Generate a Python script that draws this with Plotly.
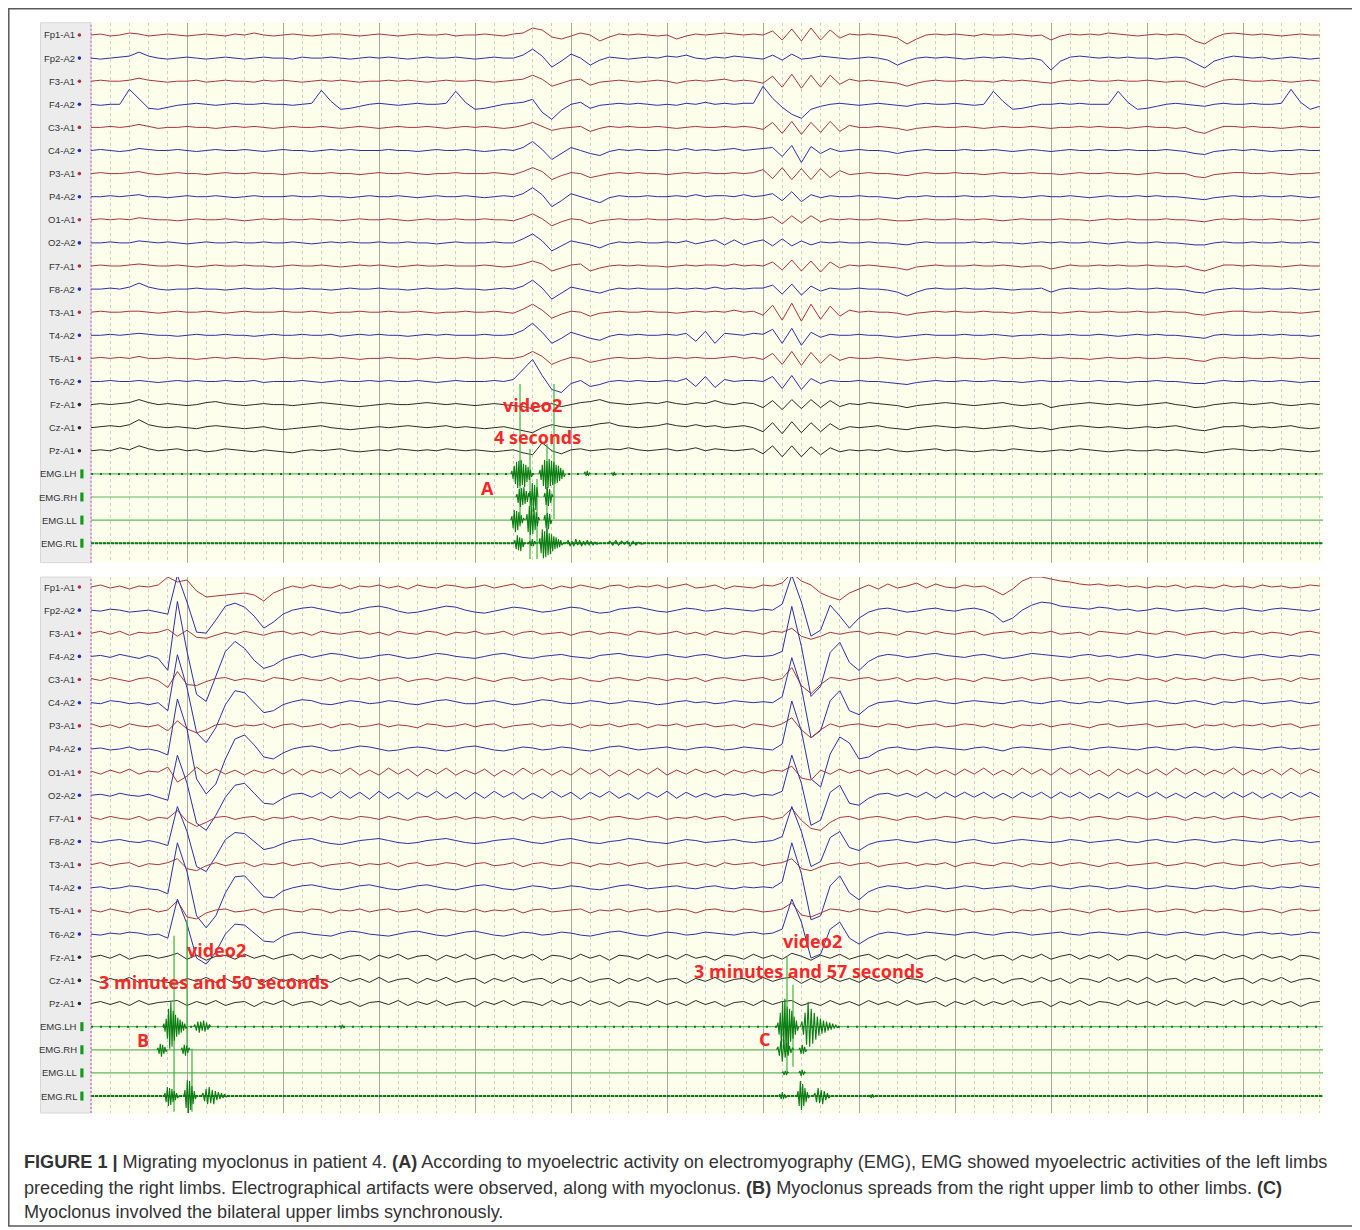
import plotly.graph_objects as go

W, H = 1360, 1230
OFF = 8           # the page body margin that the browser adds around the figure
DT = 0.1          # EEG sample step (s)
T_END = 12.8333   # visible seconds

CHANNELS = ["Fp1-A1", "Fp2-A2", "F3-A1", "F4-A2", "C3-A1", "C4-A2", "P3-A1", "P4-A2",
            "O1-A1", "O2-A2", "F7-A1", "F8-A2", "T3-A1", "T4-A2", "T5-A1", "T6-A2",
            "Fz-A1", "Cz-A1", "Pz-A1"]
EMG_CH = ["EMG.LH", "EMG.RH", "EMG.LL", "EMG.RL"]

# ---------------- Panel A EEG (values in px, up = positive, 0.1 s steps) -------------
A_FP1 = [0, 1, -1, 0, 2, 1, -1, 0, 1, 0, -1, 0, 1, 0, -1, 1, 0, 2, 0, -1,
         0, 1, 0, -1, 0, 1, 1, 0, -1, 0, 1, 0, -1, 0, 1, 0, 0, 1, -1, 0,
         0, 1, 0, -1, 1, 2, 7, 5, -2, -4, -1, 2, 0, -6, -2, 1, 0, 1, 0, -1,
         0, -4, -1, 1, 0, 1, 2, 1, 0, 1, 0, 4, -5, 6, -6, 7, -5, 5, -3, 1,
         0, 1, 0, -1, -3, -9, -4, 0, 1, 0, 1, 0, -1, 1, 0, 0, 1, 0, -1, 0,
         -5, -1, 1, 0, 1, 0, 2, 1, 0, -1, 0, 1, 0, 1, 0, -6, -9, -3, 1, 2,
         1, 0, 1, 0, -1, 0, 1, 0, 0]
A_FP2 = [0, -1, 0, 1, 2, 6, 2, 0, -1, 0, 1, 0, -1, 0, 1, 0, -1, 0, 1, 0,
         0, -1, 1, 0, 0, 1, 0, -1, 0, 1, 0, 1, 0, -1, 0, 1, 0, 0, 1, 0,
         -1, 0, 1, 0, 0, 3, 9, 2, -9, -3, 4, 0, -7, -2, 1, 0, -1, 0, 1, 0,
         2, 1, 3, 0, -1, 1, 0, 2, 1, 0, -1, 3, -2, 4, -1, 0, 2, 1, 0, -1,
         0, 1, 0, -2, -7, -3, 0, 1, 0, 1, 0, -1, 0, 1, 0, 1, 0, -1, 0, -2,
         -12, -3, 1, 2, 1, 0, 1, 0, 1, 0, 0, -1, 0, 1, 0, -5, -10, -3, 0, 2,
         1, 0, 1, -1, 0, 1, 0, -1, 0]
A_F3 = [0, 1, 0, 0, 1, 3, 1, 0, -1, 0, 0, 1, -1, 0, 1, 0, 0, -1, 1, 0,
        1, 0, -1, 0, 1, 0, 1, 0, -1, 0, 0, 1, 0, 1, 0, -1, 0, 1, 0, 0,
        1, 0, -1, 0, 1, 2, 6, 2, -5, -2, 1, 2, -4, -1, 0, 1, 0, -1, 0, 1,
        0, -2, 0, 1, 0, 1, 2, 0, 1, 0, -2, 5, -6, 7, -7, 6, -6, 6, -3, 2,
        0, 1, 0, -1, -2, -5, -2, 0, 1, 0, 0, 1, 0, 0, -1, 1, 0, 1, 0, -1,
        -2, 0, 1, 0, 1, 0, 0, 1, 0, 0, 1, 0, -1, 0, 0, -3, -6, -2, 1, 2,
        1, 0, 0, 1, 0, -1, 0, 1, 0]
A_F4 = [0, -1, 0, 0, 15, 5, -4, -5, -3, -1, 0, 1, 0, -1, 0, 1, 0, 0, 1, 0,
        0, -1, 0, 1, 14, 3, -5, -4, -2, 0, 1, 0, -1, 0, 1, 0, 0, 1, 13, 2,
        -5, -4, -2, 0, 1, 2, 5, -8, -15, -6, 0, 2, -4, -1, 0, 1, 0, 1, 0, -1,
        0, -1, 1, 0, 2, 0, 1, 0, 1, 1, 18, 6, -3, -10, -14, -5, -2, 0, 1, 0,
        -1, 0, 1, 0, -1, -2, 0, 1, 0, 0, 1, 0, -1, 0, 13, 3, -5, -4, -2, 0,
        0, 1, 0, 1, 0, 0, 0, 13, 2, -5, -4, -2, 0, 1, 0, -1, -2, 0, 1, 0,
        0, 1, 0, 0, 1, 15, 2, -5, -2]
A_C3 = [0, 0, 1, 0, 1, 3, 1, -1, 0, 0, 1, 0, 0, -1, 0, 1, 0, 1, 0, -1,
        0, 1, 0, 0, 1, 0, -1, 0, 1, 0, -1, 0, 1, 0, 0, 1, 0, -1, 0, 1,
        0, 1, 0, -1, 0, 2, 5, 1, -3, -1, 0, 1, -4, -1, 1, 0, 1, 0, 0, 1,
        0, -1, 0, 1, 0, 0, 1, 0, 1, 0, -2, 5, -6, 6, -7, 5, -5, 6, -4, 2,
        0, 0, 1, 0, -1, -3, -1, 0, 1, 0, 0, 1, 0, -1, 0, 1, 0, 0, 1, 0,
        -1, 0, 0, 1, 0, 1, 0, 0, -1, 0, 1, 0, 0, -1, 0, -4, -6, -2, 1, 1,
        0, 1, 0, 0, -1, 0, 1, 0, 0]
A_C4 = [0, 1, 0, -1, 0, 2, 1, 0, 0, 1, 0, -1, 0, 1, 0, 0, 1, 0, -1, 0,
        1, 0, 0, -1, 0, 1, 0, 1, 0, 0, 0, 1, 0, 0, -1, 0, 1, 0, 0, 1,
        0, -1, 0, 1, 0, 3, 9, 1, -9, -3, 3, 0, -3, -5, -1, 1, 0, 1, 0, 0,
        1, 0, 2, 0, 1, 0, 1, 2, 0, 1, 2, 3, -6, 5, -12, 4, -3, 2, -1, 0,
        1, 0, 0, -1, -3, -1, 0, 1, 0, 0, 0, 1, 0, 0, 1, 0, -1, 0, 1, 0,
        -1, 0, 1, 0, 0, 1, 0, 0, 1, 0, 0, 0, 1, 0, -1, -3, -4, -1, 0, 1,
        0, 1, 0, -1, 0, 0, 1, 0, 0]
A_P3 = [0, 1, 0, 0, 1, 2, 0, -1, 0, 1, 0, 0, -1, 0, 1, 0, 0, 1, 0, 0,
        -1, 0, 1, 0, 0, 1, 0, 0, -1, 0, 1, 0, 0, 1, 0, -1, 0, 0, 1, 0,
        0, 0, 1, 0, -1, 2, 6, 2, -6, -2, 1, 0, -4, -2, 0, 1, 0, 1, 0, 0,
        -1, 0, 1, 0, 1, 0, 0, 1, 0, 1, 4, -5, 6, -6, 5, -6, 5, -4, 3, -1,
        0, 1, 0, 0, -1, -2, 0, 1, 0, 0, 1, 0, 0, -1, 0, 1, 0, 0, 1, 0,
        0, -1, 0, 1, 0, 0, 1, 0, 0, -1, 0, 1, 0, 0, 0, -3, -4, -1, 0, 1,
        1, 0, 0, 1, 0, -1, 0, 0, 1]
A_P4 = [0, 0, 1, 0, 1, 2, 0, 0, -1, 0, 1, 0, 0, 1, 0, -1, 0, 1, 0, 0,
        0, 1, 0, 0, 1, 0, 0, -1, 0, 1, 0, 0, 1, 0, -1, 0, 1, 0, 0, 1,
        0, -1, 0, 1, 0, 3, 9, 2, -10, -4, 3, 0, -3, -6, -1, 1, 0, 0, 1, 0,
        0, 1, 0, 2, 0, 1, 1, 0, 2, 0, 1, 3, -4, 5, -5, 2, -1, 1, 0, 0,
        1, 0, 0, -1, -2, 0, 0, 1, 0, 0, 0, 1, 0, 0, 1, 0, 0, -1, 0, 1,
        0, 0, 1, 0, -1, 0, 1, 0, 0, 1, 0, 1, 0, 0, -1, -2, -3, -1, 0, 1,
        0, 0, 1, 0, 0, 1, 0, -1, 0]
A_O1 = [0, 1, 0, 1, 0, 2, 1, 0, 0, -1, 0, 1, 0, 0, 1, 0, -1, 0, 1, 0,
        1, 0, 0, 1, 0, 0, -1, 0, 1, 0, 0, 1, 0, -1, 0, 1, 0, 0, 1, 0,
        0, 1, 0, 0, -1, 2, 6, 1, -6, -2, 1, 0, -4, -1, 0, 1, 0, 0, 1, 0,
        0, 1, 0, 1, 0, 0, 2, 0, 1, 0, 1, 3, -4, 4, -3, 4, -2, 1, 0, 1,
        0, 0, 1, 0, -1, -1, 0, 1, 0, 0, 1, 0, 0, 1, 0, -1, 0, 1, 0, 0,
        0, 1, 0, 0, -1, 0, 1, 0, 1, 0, 0, 0, 1, 0, 0, -1, -2, 0, 1, 0,
        1, 0, 0, 1, 0, 0, -1, 0, 1]
A_O2 = [0, 0, 1, 0, 0, 2, 1, 0, 1, 0, -1, 0, 1, 0, 0, 1, 0, 0, 1, 0,
        0, 1, 0, -1, 0, 1, 0, 1, 0, 0, 1, 0, 0, 1, 0, 0, -1, 0, 1, 0,
        0, 0, 1, 0, 0, 4, 9, 2, -8, -3, 2, 0, -2, -5, -1, 1, 0, 1, 0, 0,
        1, 0, 2, -1, 1, 3, -2, 3, -2, 1, 3, -3, 4, -3, 2, -2, 1, 0, 1, 0,
        0, 1, 0, 0, -1, -2, 0, 1, 0, 0, 0, 0, 1, 0, 1, 0, 0, -1, 0, 1,
        0, 1, 0, 0, 1, 0, -1, 0, 1, 0, 0, 1, 0, 0, -1, -2, -2, 0, 1, 0,
        0, 1, 0, 0, 1, 0, 0, 1, 0]
A_F7 = [0, 1, 0, 0, 1, 2, 1, 0, 0, 1, 0, -1, 0, 1, 0, 0, 1, 0, 0, -1,
        0, 1, 0, 0, 1, 0, -1, 0, 1, 0, 1, 0, -1, 0, 1, 0, 0, 1, 0, 0,
        0, 1, 0, -1, 0, 2, 5, 2, -5, -2, 1, 2, -5, -2, 0, 1, 0, 1, 0, 0,
        -1, 0, 1, 0, 1, 1, 0, 2, 0, 1, 0, 4, -4, 6, -5, 5, -6, 4, -2, 1,
        0, 1, 0, -1, -2, -4, -1, 0, 1, 0, 0, 0, 1, 0, 0, 1, 0, -1, 0, 0,
        -3, -1, 1, 0, 0, 1, 0, 1, 0, 0, 1, 0, 0, -1, 0, -3, -5, -2, 1, 1,
        0, 1, 0, 0, -1, 0, 1, 0, 0]
A_F8 = [0, 0, 1, 0, 2, 6, 2, 0, -1, 0, 0, 1, 0, 0, -1, 0, 1, 0, 0, 1,
        0, 0, 1, 0, 0, -1, 0, 1, 0, 0, 1, 0, 0, -1, 0, 1, 0, 0, 1, 0,
        0, -1, 0, 1, 0, 3, 9, 1, -10, -4, 2, 0, -2, -4, -1, 1, 0, 1, 0, 0,
        0, 1, 0, 1, 0, 2, 0, 1, 0, 1, 1, 4, -5, 5, -6, 3, -2, 1, 0, 0,
        1, 0, 0, -1, -3, -7, -3, 0, 1, 0, 0, 1, 0, 0, 1, 0, -1, 0, 0, 1,
        -3, 0, 1, 0, 0, 1, 0, 0, 1, 0, 0, 1, 0, 0, -1, -3, -4, -1, 0, 1,
        0, 0, 1, 0, 0, 1, 0, -1, 0]
A_T3 = [0, 1, 0, 0, 1, 1, 0, -1, 0, 1, 0, 0, 1, 0, -1, 0, 1, 0, 0, 0,
        1, 0, 0, 1, 0, -1, 0, 0, 1, 0, 0, 1, 0, 0, 1, 0, -1, 0, 0, 1,
        0, 0, 1, 0, -1, 3, 8, 2, -6, -2, 1, 0, -4, -1, 0, 1, 0, 0, 1, 0,
        0, -1, 0, 1, 0, 1, 0, 2, 0, 1, -3, 7, -8, 9, -9, 8, -7, 6, -4, 2,
        0, 1, 0, 0, -1, -3, -1, 0, 1, 0, 1, 0, 0, 1, 0, 0, -1, 0, 1, 0,
        0, -1, 0, 1, 0, 0, 1, 0, 0, 1, 0, 0, 1, 0, 0, -2, -3, -1, 0, 1,
        1, 0, 0, 1, 0, 0, -1, 0, 1]
A_T4 = [0, 0, 1, 0, 1, 2, 1, 0, 0, -1, 0, 1, 0, 0, 1, 0, 0, -1, 0, 1,
        0, 0, 1, 0, 0, 1, -1, 0, 1, 0, 1, 0, 0, -1, 0, 1, 0, 1, 0, 0,
        0, 1, 0, 0, 1, 5, 12, 3, -8, -3, 3, 0, -3, -5, -1, 1, 0, 1, 0, 0,
        1, 0, 2, -6, 4, -8, 2, 1, 0, 2, 1, 6, -8, 7, -10, 3, -2, 1, 0, 0,
        1, 0, 0, -1, -2, -1, 0, 1, 0, 0, 0, 1, 0, 0, 1, 0, -1, 0, 0, 1,
        0, 0, 1, 0, 0, 1, 0, -1, 0, 1, 0, 1, 0, 0, -1, -2, -3, 0, 1, 0,
        0, 0, 1, 0, 1, 0, 0, -1, 0]
A_T5 = [0, 1, 0, 1, 0, 2, 0, 0, 1, 0, 0, -1, 0, 1, 0, 1, 0, 0, -1, 0,
        1, 0, 0, 1, 0, 0, 1, 0, -1, 0, 0, 1, 0, 0, -1, 0, 1, 0, 0, 1,
        0, 0, 1, 0, 0, 2, 7, 2, -6, -2, 1, 0, -4, -2, 0, 1, 0, 0, 1, 0,
        0, 1, 0, 1, 0, 0, 1, 2, 0, 1, -1, 5, -6, 7, -7, 6, -5, 4, -2, 1,
        0, 0, 1, 0, -1, -2, -1, 0, 1, 0, 1, 0, 0, -1, 0, 1, 0, 0, 1, 0,
        0, 1, 0, 0, -1, 0, 1, 0, 0, 1, 0, 0, 1, 0, 0, -2, -3, 0, 1, 0,
        1, 0, 0, 1, 0, 0, 1, 0, 0]
A_T6 = [0, 0, 1, 0, 0, 1, 0, -1, 0, 1, 0, 1, 0, 0, 1, 0, 0, 1, -1, 0,
        0, 0, 1, 0, -1, 0, 1, 0, 0, 1, 0, 1, 0, 0, 1, 0, -1, 0, 1, 0,
        0, 0, 1, 0, 2, 12, 22, 6, -8, -11, -2, 1, -5, -3, 0, 1, 0, 1, 0, 0,
        1, 0, 3, -5, 5, -6, 2, 0, 1, 1, 0, 5, -7, 6, -8, 3, -2, 1, 0, 0,
        1, 0, 0, -1, -2, -3, -1, 0, 1, 0, 0, 1, 0, 0, 1, 0, 0, -1, 0, 1,
        0, 0, 1, 0, 0, 1, 0, 0, -1, 0, 0, 1, 0, 0, -1, -2, -2, 0, 1, 0,
        0, 1, 0, 0, 1, 0, -1, 0, 0]
A_FZ = [0, 1, 0, 1, 2, 5, 2, 0, 1, 0, -1, 0, 2, 3, 1, 0, -1, 0, 1, 0,
        0, -1, 0, 1, 2, 1, 0, -1, -2, -1, 0, 1, 0, 0, 1, 2, 1, 0, 1, 0,
        -1, 0, 1, 0, -1, -2, -4, -1, 1, -2, 0, 2, 3, 5, 2, 1, 0, 1, 2, 1,
        3, 1, 0, 2, 1, 4, 1, 0, 2, 1, -3, 4, -5, 5, -4, 5, -3, 4, -2, 1,
        0, 2, 1, 0, -1, -3, -1, 0, 1, 2, 1, 0, -1, 0, 1, 2, 0, -1, 0, 1,
        -3, -1, 0, 1, 2, 1, 0, 1, 0, -1, 0, 1, 2, 0, -1, -3, -2, 0, 1, 2,
        1, 0, 1, 2, 0, -1, 0, 1, 0]
A_CZ = [0, 1, 2, 1, 3, 8, 3, 1, 0, 1, 0, -1, 1, 2, 1, 0, -1, 0, 1, -1,
        -2, -1, 0, 1, 2, 0, -1, -2, -1, 0, 1, 0, 1, 2, 1, 0, 1, 2, 0, 1,
        0, -1, 0, 1, -1, -3, -5, 0, 3, 1, 0, 1, 2, 4, 5, 2, 1, 0, 1, 2,
        4, 2, 1, 3, 1, 2, 0, 1, 2, 0, -4, 5, -6, 6, -5, 5, -4, 4, -2, 1,
        0, 1, 2, 0, -1, -2, 0, 1, 2, 1, 0, 1, 0, -1, 0, 1, 2, 0, -1, 0,
        -2, 0, 1, 2, 1, 0, 1, 0, -1, 0, 1, 0, 1, 2, 0, -2, -3, -1, 1, 1,
        2, 0, 1, 0, 1, 2, 0, -1, 0]
A_PZ = [0, 1, 0, 3, 1, 5, 2, 0, 1, 2, 0, 1, -1, 0, 2, 1, 0, -1, 1, 0,
        -1, -2, 0, 1, 0, 1, 2, 0, -1, 0, 1, 0, 2, 1, 0, 1, 0, 2, 1, 0,
        1, 0, -1, 0, 1, -2, -4, 8, 0, -3, 1, 2, 0, 1, 2, 1, 3, 1, 0, 1,
        2, 0, 1, 3, 0, 2, 1, 0, 1, 2, -3, 5, -6, 5, -6, 4, -4, 3, -1, 1,
        0, 1, 0, 2, 0, -1, 0, 1, 2, 0, 1, 0, -1, 0, 1, 0, 2, 1, 0, -1,
        0, 1, 0, 2, 1, 0, -1, 0, 1, 0, 0, 1, 0, 1, 0, -1, -2, 0, 1, 2,
        1, 0, 1, 0, 2, 1, 0, -1, 0]

# ---------------- Panel B EEG --------------------------------------------------------
B_FP1 = [0, 2, -1, 1, -2, 1, 0, 2, 10, 5, 7, -4, -10, -9, -8, -7, -6, -8, -14, -6,
         -2, 1, -1, 2, 0, -1, 2, -2, 1, 0, 2, -1, 1, -2, 2, 0, -1, 2, 1, -1,
         0, 2, -1, 1, 3, -1, 0, 2, -2, 1, -1, 2, 0, -2, 1, 2, -1, 1, 0, 2,
         -1, 1, 3, -1, 0, 2, -2, 1, 0, -1, 2, 1, 4, 14, 6, 2, -6, -10, -13, -6,
         -2, 2, -2, 3, -1, 1, 4, -1, 3, 0, -1, 2, 0, 1, -3, -8, -2, 6, 10, 10,
         8, 6, 5, 3, 2, 3, 1, 2, 0, 1, -1, 1, 0, 2, -1, 1, 0, -1, 2, 0,
         1, -1, 2, 0, 1, -1, 0, 2, 1]
B_FP2 = [0, -1, 1, 0, -2, -1, 0, -2, -4, 35, 8, -22, -23, -10, 4, 7, 3, -6, -18, -12,
         -4, 0, 2, 3, 1, -1, -3, -2, 1, 3, 4, 2, -1, -3, -2, 0, 2, 4, 3, 0,
         -2, -3, -1, 1, 3, 2, 0, -2, -1, 1, 3, 2, -1, -3, -2, 1, 2, 3, 1, -1,
         -2, 0, 2, 1, -1, 0, 2, 1, 0, -1, 1, 0, 6, 35, 8, -26, -20, 5, -6, -18,
         -8, -2, 1, 2, 0, -2, -1, 1, 2, 0, -1, 1, 2, 0, -4, -12, -8, 0, 5, 8,
         7, 4, 3, 2, 1, 3, 2, 0, 1, -1, 0, 2, 1, -1, 0, 1, 2, 0, -1, 1,
         2, 0, -1, 1, 2, 1, 0, -1, 1]
B_F3 = [0, 2, -1, 2, -2, 1, 0, 1, 4, -3, 3, -4, -5, -2, 1, -1, 2, 0, -2, 1,
        2, -1, 1, -2, 2, 0, -1, 1, 2, -1, 1, -2, 2, 0, -1, 2, 1, -2, 1, 0,
        2, -1, 0, 2, -2, 1, 2, -1, 0, 1, -2, 1, 2, -1, 1, 0, -2, 2, 1, -1,
        0, 2, -1, 1, -2, 2, 0, -1, 2, 1, -1, 2, 1, 5, -3, -6, -3, 1, -1, 1,
        2, -1, 1, 0, -2, 2, 1, -1, 2, 0, -1, 1, 2, -2, 0, 1, 2, -1, 1, 0,
        2, -1, 0, 1, -2, 2, 1, 0, -1, 2, 0, -1, 2, 1, -2, 0, 1, 2, -1, 1,
        0, 2, -1, 1, 0, -2, 1, 2, 0]
B_F4 = [0, 1, -1, 2, 0, -2, 1, -2, -14, 55, 5, -38, -45, -20, 5, 15, 8, -4, -12, -9,
        -3, 0, 2, -1, 1, 3, 2, 0, -2, -1, 1, 2, 0, -2, -1, 1, 3, 2, 0, -1,
        -2, 0, 2, 3, 1, -1, -2, 0, 1, 2, 0, -1, -2, 1, 2, 3, 1, 0, -1, 1,
        2, 0, -1, 1, 2, 0, -2, -1, 1, 0, 0, 1, 5, 50, 10, -40, -30, 4, 14, -6,
        -14, -5, 0, 2, 1, -1, 0, 2, 3, 1, 0, -1, 1, 2, 0, -2, -1, 1, 3, 2,
        1, 0, -1, 1, 2, 0, 1, -1, 0, 2, 1, -1, 0, 2, 1, 0, -2, 1, 2, 0,
        -1, 1, 2, 0, -1, 1, 0, 2, 1]
B_C3 = [1, -1, 2, 0, -2, 1, 2, -1, -8, 8, -5, -6, -2, 1, 2, -1, 1, 0, -2, 2,
        1, -1, 2, 0, -1, 2, -2, 1, 0, 2, -1, 1, 2, -2, 0, 1, -1, 2, 1, -1,
        2, 0, -2, 1, 2, -1, 0, 2, -1, 1, 0, 2, -1, -2, 1, 2, 0, -1, 2, 1,
        -1, 1, 0, 2, -2, 1, 2, 0, -1, 1, 2, -1, 1, 12, -6, -14, -5, 2, 1, -1,
        1, 2, -1, 0, 2, -2, 1, 0, 2, -1, 1, 0, -2, 2, 1, -1, 0, 2, -1, 1,
        2, -1, 0, 1, 2, -2, 1, 0, -1, 2, 0, 1, -2, 2, 0, 1, -1, 2, 0, -1,
        1, 2, -1, 0, 1, -2, 2, 0, 1]
B_C4 = [0, -1, 2, 1, -1, 0, -2, 0, -8, 48, 15, -30, -40, -25, -2, 12, 10, 0, -10, -8,
        -2, 1, 3, 2, -1, -2, 0, 2, 1, -1, 0, 2, 1, -1, -2, 0, 2, 3, 1, -1,
        -1, 1, 2, 0, -2, -1, 1, 3, 2, 0, -1, 0, 2, 1, -1, 0, 2, 1, 0, -2,
        -1, 1, 2, 0, 1, -1, 0, 2, 1, 0, 1, 0, 6, 45, 15, -35, -28, 2, 12, -8,
        -12, -4, 0, 1, 2, 0, -1, 1, 2, 0, -1, 1, 2, 1, 0, -1, 1, 2, 0, -1,
        1, 2, 0, -1, 1, 0, 2, 1, -1, 0, 1, 2, 0, -1, 1, 2, 0, -2, 1, 0,
        2, 1, -1, 0, 1, 2, 0, -1, 1]
B_P3 = [2, -1, 1, -2, 2, 0, -1, 1, -5, 5, -3, -7, -4, 1, 2, -1, 1, 0, 2, -2,
        1, 2, -1, 0, 2, -2, 1, 2, -1, 0, 2, -1, 1, 0, -2, 2, 1, -1, 0, 2,
        -1, 1, 2, -2, 0, 1, 2, -1, 1, 0, 2, -2, 1, 0, 2, -1, 1, 2, -2, 1,
        0, 2, -1, 1, 2, -1, 0, 1, -2, 2, 1, -1, 2, 8, -4, -12, -4, 2, -1, 1,
        2, 0, -1, 2, 1, -2, 0, 1, 2, -1, 0, 2, 1, -1, 2, 0, -2, 1, 0, 2,
        -1, 1, 2, 0, -2, 1, 2, -1, 0, 1, 2, -1, 0, 1, 2, -2, 1, 0, 2, -1,
        1, 0, 2, -1, 1, 2, -2, 0, 1]
B_P4 = [0, 1, -1, 0, 2, -1, 0, -2, -6, 50, 20, -30, -45, -35, -10, 10, 14, 4, -8, -10,
        -4, 0, 2, 3, 1, -2, -1, 1, 3, 2, 0, -2, -1, 1, 2, 1, -1, -2, 0, 2,
        3, 1, -1, -2, 0, 2, 1, -1, 0, 2, 1, -1, -2, 0, 2, 3, 1, -1, 0, 1,
        2, 0, -1, 1, 2, 1, -1, 0, 2, 1, 0, -1, 5, 48, 18, -30, -38, -5, 12, 6,
        -10, -8, -2, 1, 2, 0, -1, 1, 2, 1, 0, -1, 1, 2, 0, -2, 1, 2, 1, 0,
        -1, 1, 2, 0, -1, 1, 2, 1, 0, -1, 1, 2, 0, -1, 1, 2, 1, -1, 0, 2,
        1, 0, -1, 1, 2, 0, 1, -1, 0]
B_O1 = [1, -2, 2, -1, 3, -2, 1, 0, 5, -10, -4, 5, -2, 3, -2, 2, -3, 2, -1, 3,
        -2, 3, -3, 2, -1, 3, -2, 4, -3, 2, -3, 4, -2, 3, -4, 3, -2, 4, -3, 2,
        -2, 3, -4, 2, -3, 4, -2, 3, -3, 2, -3, 4, -2, 3, -4, 2, -3, 3, -2, 4,
        -3, 2, -2, 3, -1, 2, -3, 2, -1, 2, -1, 2, 1, 6, -6, -8, 2, -2, 3, -1,
        2, -2, 1, 3, -2, 2, -3, 3, -2, 2, -3, 3, -2, 4, -3, 2, -3, 4, -2, 3,
        -3, 4, -2, 3, -3, 2, -4, 3, -2, 3, -2, 3, -3, 4, -2, 3, -3, 2, -2, 4,
        -3, 2, -2, 3, -3, 4, -2, 3, -1]
B_O2 = [0, 1, -1, 2, 0, -1, 1, -2, -5, 40, 12, -28, -35, -20, -2, 10, 12, 2, -8, -9,
        -3, 1, 2, -2, 3, -3, 4, -3, 3, -4, 4, -3, 3, -4, 3, -2, 4, -3, 3, -4,
        3, -3, 4, -2, 3, -4, 2, -3, 4, -2, 3, -4, 3, -2, 4, -3, 2, -4, 3, -2,
        4, -3, 3, -2, 2, -2, 1, 0, 2, -1, 1, 0, 4, 40, 12, -30, -25, 3, 10, -8,
        -10, -3, 1, 2, -1, 2, -2, 3, -3, 3, -2, 3, -2, 3, -3, 2, -3, 3, -2, 3,
        -3, 3, -2, 3, -3, 2, -3, 3, -2, 3, -2, 3, -3, 2, -3, 3, -2, 3, -3, 3,
        -2, 3, -3, 2, -3, 3, -2, 3, -2]
B_F7 = [1, -1, 2, 0, -1, 2, -2, 1, 0, 8, -3, -8, -4, 1, 2, -1, 1, 2, -2, 1,
        0, 2, -1, 1, -2, 2, 0, -1, 2, 1, -1, 2, 0, -2, 1, 2, -1, 0, 2, -1,
        1, 0, 2, -1, 1, -2, 2, 0, 1, 2, -1, 0, 2, -2, 1, 2, 0, -1, 1, 2,
        -1, 1, 0, 2, -1, 1, 2, -2, 0, 1, 2, -1, 1, 10, -2, -10, -12, -4, 1, 2,
        -1, 1, 2, 0, -2, 1, 2, -1, 0, 2, 1, -1, 2, 0, 1, -2, 2, 1, 0, -1,
        2, 0, 1, -2, 1, 2, 0, -1, 2, 1, -1, 0, 2, 1, -2, 1, 0, 2, -1, 1,
        2, 0, -1, 1, 2, -2, 0, 1, 2]
B_F8 = [0, -1, 1, 2, 0, -1, 1, -1, -4, 35, 10, -25, -30, -15, 2, 9, 8, 0, -8, -6,
        -2, 1, 2, 3, 0, -2, -3, -1, 1, 2, 3, 1, -1, -2, -1, 1, 2, 3, 1, -1,
        -2, -1, 1, 2, 3, 1, -1, -2, 0, 2, 3, 1, -1, -2, 0, 1, 3, 2, 0, -1,
        -2, 0, 2, 1, -1, 0, 1, 2, 0, -1, 0, 1, 5, 35, 10, -25, -20, 4, 10, -6,
        -9, -3, 0, 1, 2, 0, -1, 1, 2, 0, -1, 1, 2, 0, -2, -1, 1, 2, 1, 0,
        -1, 0, 2, 1, -1, 0, 1, 2, 0, -1, 1, 2, 0, -1, 1, 2, 1, -1, 0, 2,
        1, 0, -1, 1, 2, 0, 1, -1, 0]
B_T3 = [0, 2, -1, 1, 2, -2, 1, 0, 2, 6, -4, -6, -1, 2, -1, 1, 2, -2, 1, 0,
        2, -1, 1, 2, -2, 0, 1, 2, -1, 1, 0, 2, -2, 1, 2, -1, 0, 2, 1, -2,
        1, 2, -1, 0, 2, -2, 1, 2, 0, -1, 2, 1, -2, 1, 0, 2, -1, 1, 2, -2,
        0, 1, 2, -1, 1, -2, 2, 0, 1, 2, -1, 1, 2, 6, -4, -6, -2, 1, 2, -1,
        1, 2, -2, 0, 1, 2, -1, 1, 0, 2, -2, 1, 2, 0, -1, 2, 1, -2, 1, 0,
        2, -1, 1, 2, 0, -2, 1, 2, -1, 0, 1, 2, -1, 0, 2, 1, -2, 1, 2, 0,
        -1, 1, 2, -2, 0, 1, 2, -1, 1]
B_T4 = [0, 1, -1, 0, 2, 1, -1, -2, -6, 45, 16, -28, -40, -28, -5, 11, 12, 2, -9, -10,
        -3, 0, 2, 3, 1, -1, -2, 0, 2, 3, 1, -1, -2, 0, 2, 3, 1, -1, -2, 0,
        2, 3, 1, -1, -2, 0, 2, 1, -1, 0, 2, 1, -1, -2, 0, 2, 3, 1, -1, 0,
        1, 2, 0, -1, 1, 2, 0, -1, 1, 0, 1, 0, 6, 45, 14, -32, -28, 2, 12, -5,
        -12, -4, 0, 2, 1, -1, 0, 2, 1, -1, 0, 2, 1, -1, 0, 1, 2, 0, -1, 1,
        2, 0, -1, 1, 2, 1, -1, 0, 2, 1, -1, 0, 2, 1, 0, -1, 1, 2, 0, -1,
        1, 2, 0, -1, 1, 0, 2, 1, 0]
B_T5 = [1, -1, 2, 0, -2, 1, 2, -1, 1, 10, -6, -8, -2, 1, 2, -1, 0, 2, -2, 1,
        2, 0, -1, 2, 1, -2, 1, 0, 2, -1, 1, 2, -1, 0, 2, -2, 1, 2, 0, -1,
        2, -1, 1, 0, 2, -2, 1, 2, -1, 0, 1, 2, -2, 1, 0, 2, -1, 1, 2, -1,
        0, 2, 1, -2, 1, 2, 0, -1, 2, 1, -1, 0, 2, 8, -4, -6, -2, 2, 1, -1,
        2, 0, -1, 2, 1, -2, 0, 2, 1, -1, 1, 2, -1, 0, 2, 1, -2, 1, 0, 2,
        -1, 1, 2, 0, -2, 1, 2, -1, 0, 1, 2, -1, 0, 2, 1, -2, 1, 0, 2, 1,
        -1, 0, 2, 1, -2, 1, 2, 0, 1]
B_T6 = [0, -1, 1, 0, 2, 1, -1, 0, -4, 35, 10, -24, -30, -18, 0, 10, 9, 1, -7, -8,
        -2, 1, 2, 0, -1, -2, 1, 3, 2, 0, -1, -2, 0, 2, 3, 1, -1, -2, 0, 2,
        3, 1, -1, -2, 0, 2, 1, -1, 0, 2, 1, -1, -2, 0, 2, 3, 1, -1, -2, 0,
        2, 1, -1, 0, 2, 1, 0, -1, 1, 2, 0, 1, 5, 35, 12, -24, -20, 5, 12, -4,
        -10, -4, 0, 2, 1, -1, 0, 2, 1, 0, -1, 1, 2, 0, -1, 1, 2, 1, -1, 0,
        1, 2, 0, -1, 1, 2, 1, 0, -1, 1, 2, 0, -1, 1, 2, 0, -1, 1, 2, 0,
        -1, 1, 2, 0, 1, -1, 0, 2, 1]
B_FZ = [0, 2, -1, 3, -2, 1, 2, -1, 1, 4, -2, 2, -3, 1, 2, -2, 3, -1, 2, -2,
        1, 3, -2, 2, -1, 3, -2, 1, 2, -3, 2, -1, 3, -2, 1, 2, -3, 2, -1, 3,
        -2, 1, 3, -2, 2, -1, 3, -3, 2, 1, -2, 3, -1, 2, -3, 2, 1, -2, 3, -1,
        2, -2, 3, -1, 1, -3, 2, 1, -2, 3, -1, 2, -2, 4, 1, -3, 2, -1, 3, -2,
        1, 3, -2, 2, -1, 3, -2, 1, 2, -3, 2, -1, 3, -2, 1, 2, -3, 2, -1, 3,
        -2, 1, 3, -2, 2, -1, 3, -3, 2, 1, -2, 3, -1, 2, -3, 2, 1, -2, 3, -1,
        2, -2, 3, -1, 1, -3, 2, 1, -2]
B_CZ = [1, -2, 2, -1, 3, -2, 1, 0, -2, -3, 2, -1, 3, -2, 2, -3, 1, 2, -2, 3,
        -1, 2, -3, 2, 1, -2, 3, -1, 2, -2, 3, -2, 1, 2, -3, 2, -1, 3, -2, 1,
        2, -3, 2, -1, 3, -2, 1, 2, -3, 2, -1, 3, -2, 1, 2, -3, 2, -1, 3, -2,
        1, 2, -3, 2, -1, 3, -2, 1, 2, -2, 3, -1, 2, 3, -3, 2, -2, 3, -1, 2,
        -2, 3, -1, 2, -3, 2, 1, -2, 3, -1, 2, -2, 3, -1, 2, -3, 1, 2, -2, 3,
        -1, 2, -3, 2, 1, -2, 3, -1, 2, -2, 3, -2, 1, 2, -3, 2, -1, 3, -2, 1,
        2, -3, 2, -1, 3, -2, 1, 2, -1]
B_PZ = [0, 2, -1, 2, -2, 3, -1, 1, 2, 3, -2, 2, -1, 3, -2, 1, 2, -3, 2, -1,
        3, -2, 1, 2, -2, 3, -1, 2, -3, 1, 2, -1, 3, -2, 2, -1, 3, -2, 1, 2,
        -3, 2, -1, 3, -2, 2, 1, -2, 3, -1, 2, -2, 3, -1, 2, -3, 2, 1, -2, 3,
        -1, 2, -2, 3, -1, 2, -3, 1, 2, -2, 3, -1, 2, 3, -2, 1, -2, 3, -1, 2,
        -2, 3, -1, 2, -2, 3, -1, 1, 2, -3, 2, -1, 3, -2, 2, -1, 3, -2, 1, 2,
        -3, 2, -1, 3, -2, 2, 1, -2, 3, -1, 2, -2, 3, -1, 2, -3, 2, 1, -2, 3,
        -1, 2, -2, 3, -1, 2, -3, 1, 2]

# ---------------- EMG bursts: (start s, step s, values px) ----------------------------
A_EMG_LH = [(4.385, 0.012, [3, -5, 8, -10, 12, -14, 13, -12, 14, -11, 10, -13, 9, -8, 7, -6, 4, -3]),
            (4.677, 0.012, [4, -6, 9, -12, 14, -15, 13, -14, 15, -12, 13, -11, 12, -10, 9, -9, 8, -7, 6, -5, 4, -3]),
            (5.146, 0.012, [2, -2, 3, -2, 1]),
            (5.427, 0.012, [1, -2, 2, -1])]
A_EMG_RH = [(4.4375, 0.012, [3, -6, 8, -10, 9, -8, 10, -7, 6, -5, 4]),
            (4.573, 0.012, [6, -10, 14, -15, 12, -13, 10]),
            (4.729, 0.012, [4, -8, 10, -9, 8, -6, 3])]
A_EMG_LL = [(4.385, 0.012, [4, -8, 10, -12, 9, -10, 8, -6, 5, -3, 2]),
            (4.542, 0.012, [6, -12, 14, -15, 13, -14, 12, -10, 8, -6, 3]),
            (4.729, 0.012, [5, -8, 7, -9, 6, -4])]
A_EMG_RL = [(4.417, 0.012, [3, -6, 8, -7, 6, -8, 5, -4]),
            (4.573, 0.012, [2, -3, 4, -3, 2]),
            (4.677, 0.012, [5, -10, 14, -15, 12, -14, 15, -12, 10, -11, 9, -8, 7, -6, 6, -5, 4, -4, 3, -2]),
            (4.970, 0.020, [3, -3, 2, -3, 4, -2, 3, -3, 2, -2, 3, -2, 2, -2, 1, -1]),
            (5.406, 0.030, [2, -2, 3, -2, 2, -1, 2, -3, 2, -2, 1, -1])]
# tall artifact spikes: (time s, top px, bottom px) relative to the EMG.LH baseline
A_SPIKES = [(4.469, 90, -45), (4.573, 25, -85), (4.646, -5, -85), (4.750, 30, -65), (4.823, 90, -45)]

B_EMG_LH = [(0.760, 0.012, [3, -5, 8, -12, 18, -22, 25, -20, 16, -14, 12, -10, 9, -8, 7, -6, 5, -4, 3, -2]),
            (1.083, 0.015, [2, -4, 5, -6, 5, -4, 6, -5, 4, -3, 2]),
            (2.594, 0.012, [1, -2, 2, -1]),
            (7.156, 0.012, [4, -8, 14, -20, 25, -22, 28, -25, 20, -24, 18, -15, 16, -12, 10, -8, 6, -4]),
            (7.406, 0.016, [5, -8, 14, -18, 25, -20, 18, -17, 14, -13, 10, -9, 8, -7, 6, -6, 5, -4, 4, -3, 3, -2, 2, -1])]
B_EMG_RH = [(0.698, 0.012, [2, -4, 6, -7, 5, -4, 3, -2]),
            (0.948, 0.012, [2, -4, 5, -6, 4, -3, 2]),
            (7.156, 0.015, [3, -6, 9, -12, 10, -8, 7, -6, 4, -3, 2]),
            (7.385, 0.012, [2, -4, 5, -4, 3, -2])]
B_EMG_LL = [(7.208, 0.012, [1, -2, 2, -2, 1]),
            (7.385, 0.012, [2, -3, 3, -2, 1])]
B_EMG_RL = [(0.771, 0.012, [3, -6, 9, -10, 8, -9, 7, -6, 5, -4, 3, -2]),
            (0.979, 0.012, [6, -12, 16, -18, 15, -14, 10, -8, 5, -3]),
            (1.167, 0.016, [3, -5, 7, -8, 9, -7, 6, -8, 5, -4, 4, -3, 3, -2, 2, -1]),
            (7.177, 0.012, [2, -3, 4, -3, 2, -2]),
            (7.365, 0.012, [5, -10, 15, -14, 12, -10, 8, -6, 4, -2]),
            (7.542, 0.016, [3, -6, 8, -7, 6, -8, 5, -4, 3, -2]),
            (8.115, 0.012, [1, -2, 2, -1])]
B_SPIKES = [(0.865, 91, -85), (1.000, 107, -22), (1.052, -22, -85), (7.250, 70, -47), (7.3125, 42, -40)]

PANEL_A_EEG = [A_FP1, A_FP2, A_F3, A_F4, A_C3, A_C4, A_P3, A_P4, A_O1, A_O2,
               A_F7, A_F8, A_T3, A_T4, A_T5, A_T6, A_FZ, A_CZ, A_PZ]
PANEL_B_EEG = [B_FP1, B_FP2, B_F3, B_F4, B_C3, B_C4, B_P3, B_P4, B_O1, B_O2,
               B_F7, B_F8, B_T3, B_T4, B_T5, B_T6, B_FZ, B_CZ, B_PZ]
PANEL_A_EMG = [A_EMG_LH, A_EMG_RH, A_EMG_LL, A_EMG_RL]
PANEL_B_EMG = [B_EMG_LH, B_EMG_RH, B_EMG_LL, B_EMG_RL]

# ---------------- styling / layout ---------------------------------------------------
RED, BLUE, BLACK = "#a8343c", "#2b2fa8", "#2a2a2a"
EMG_BASE, EMG_DARK = "#5cb85c", "#0b7d12"
CREAM, GREY = "#fefeec", "#ececec"

FW, FH = W - OFF, H - OFF   # figure size inside the page margin


def ch_color(name):
    if name.startswith(("Fz", "Cz", "Pz")):
        return BLACK
    return BLUE if name.endswith("A2") else RED


def py(v):  # page y pixel -> paper
    return 1 - (v - OFF) / FH


def px(v):  # page x pixel -> paper
    return (v - OFF) / FW


X0, X1 = 91, 1323
panels = [
    dict(eeg=PANEL_A_EEG, emg=PANEL_A_EMG, spikes=A_SPIKES, top=22.7, bottom=562.7,
         row0=35.0, sp=23.1, xa="x", ya="y"),
    dict(eeg=PANEL_B_EEG, emg=PANEL_B_EMG, spikes=B_SPIKES, top=577.0, bottom=1113.0,
         row0=587.0, sp=23.14, xa="x2", ya="y2"),
]

fig = go.Figure()
shapes, annotations = [], []

for p in panels:
    nrows = len(CHANNELS) + len(EMG_CH)
    for j in range(len(EMG_CH)):
        base = -(len(CHANNELS) + j) * p["sp"]
        fig.add_trace(go.Scatter(x=[0, T_END], y=[base, base], mode="lines",
                                 line=dict(color=EMG_BASE, width=1.2),
                                 xaxis=p["xa"], yaxis=p["ya"], hoverinfo="skip"))
        if EMG_CH[j] in ("EMG.LH", "EMG.RL"):
            fig.add_trace(go.Scatter(x=[0, T_END], y=[base, base], mode="lines",
                                     line=dict(color=EMG_DARK, width=2,
                                               dash="2px,7px" if EMG_CH[j] == "EMG.LH" else "3px,1px"),
                                     xaxis=p["xa"], yaxis=p["ya"], hoverinfo="skip"))
    for i, vals in enumerate(p["eeg"]):
        base = -i * p["sp"]
        fig.add_trace(go.Scatter(x=[DT * k for k in range(len(vals))],
                                 y=[base + v for v in vals], mode="lines",
                                 line=dict(color=ch_color(CHANNELS[i]), width=1),
                                 xaxis=p["xa"], yaxis=p["ya"], hoverinfo="skip"))
    lh_base = -len(CHANNELS) * p["sp"]
    sx, sy = [], []
    for t, hi, lo in p["spikes"]:
        sx += [t, t, None]
        sy += [lh_base + hi, lh_base + lo, None]
    fig.add_trace(go.Scatter(x=sx, y=sy, mode="lines", line=dict(color="#3cb043", width=1.2),
                             xaxis=p["xa"], yaxis=p["ya"], hoverinfo="skip"))
    for j, bursts in enumerate(p["emg"]):
        base = -(len(CHANNELS) + j) * p["sp"]
        bx, by = [], []
        for t0, dt, vals in bursts:
            bx += [t0 - dt] + [t0 + k * dt for k in range(len(vals))] + [t0 + len(vals) * dt, None]
            by += [base] + [base + v for v in vals] + [base, None]
        fig.add_trace(go.Scatter(x=bx, y=by, mode="lines", line=dict(color=EMG_DARK, width=1.1),
                                 xaxis=p["xa"], yaxis=p["ya"], hoverinfo="skip"))

    shapes.append(dict(type="rect", xref="paper", yref="paper", x0=px(40.5), x1=px(X0),
                       y0=py(p["bottom"]), y1=py(p["top"]), fillcolor=GREY,
                       line=dict(color="#d8d8d8", width=1), layer="below"))
    shapes.append(dict(type="line", xref="paper", yref="paper", x0=px(X0), x1=px(X0),
                       y0=py(p["bottom"]), y1=py(p["top"]),
                       line=dict(color="#c04cc0", width=1, dash="2px,2px")))
    for i in range(nrows):
        yy = p["row0"] + i * p["sp"]
        if i < len(CHANNELS):
            name = CHANNELS[i]
            annotations.append(dict(text=name, xref="paper", yref="paper", x=px(76.5), y=py(yy),
                                    xanchor="right", yanchor="middle", showarrow=False,
                                    font=dict(family="Liberation Sans", size=9.5, color="#333333")))
            shapes.append(dict(type="circle", xref="paper", yref="paper",
                               x0=px(77.6), x1=px(81.2), y0=py(yy + 1.8), y1=py(yy - 1.8),
                               fillcolor=ch_color(name), line=dict(width=0)))
        else:
            name = EMG_CH[i - len(CHANNELS)]
            annotations.append(dict(text=name, xref="paper", yref="paper", x=px(78.5), y=py(yy),
                                    xanchor="right", yanchor="middle", showarrow=False,
                                    font=dict(family="Liberation Sans", size=9.5, color="#333333")))
            shapes.append(dict(type="rect", xref="paper", yref="paper",
                               x0=px(80.3), x1=px(83.5), y0=py(yy + 4.5), y1=py(yy - 4.5),
                               fillcolor="#139a1a", line=dict(width=0)))

RED_TXT = dict(family="Open Sans", size=18, color="#f52828", weight=700)
notes = [("video2", 532, 405), ("4 seconds", 537, 437), ("A", 487, 488),
         ("video2", 216, 950), ("3 minutes and 50 seconds", 214.5, 982), ("B", 143, 1040),
         ("video2", 812, 941), ("3 minutes and 57 seconds", 809, 971), ("C", 764, 1039)]
for txt, xx, yy in notes:
    annotations.append(dict(text=txt, xref="paper", yref="paper", x=px(xx), y=py(yy),
                            xanchor="center", yanchor="middle", showarrow=False, font=RED_TXT))

CAP = dict(family="Liberation Sans", size=18.1, color="#333333")
cap_lines = [
    ("<b>FIGURE 1 |</b> Migrating myoclonus in patient 4. <b>(A)</b> According to myoelectric activity on "
     "electromyography (EMG), EMG showed myoelectric activities of the left limbs", 1162),
    ("preceding the right limbs. Electrographical artifacts were observed, along with myoclonus. "
     "<b>(B)</b> Myoclonus spreads from the right upper limb to other limbs. <b>(C)</b>", 1188),
    ("Myoclonus involved the bilateral upper limbs synchronously.", 1212),
]
for txt, yy in cap_lines:
    annotations.append(dict(text=txt, xref="paper", yref="paper", x=px(22), y=py(yy),
                            xanchor="left", yanchor="middle", showarrow=False, font=CAP))

shapes.append(dict(type="rect", xref="paper", yref="paper", x0=px(8.8), x1=px(1354),
                   y0=py(1226), y1=py(8.8), line=dict(color="#5a5a5a", width=1.5),
                   fillcolor="rgba(0,0,0,0)", layer="below"))

axis_x = dict(range=[0, (X1 - X0) / 96.0], domain=[px(X0), px(X1)], showticklabels=False,
              ticks="", zeroline=False, showgrid=True, dtick=1, tick0=0,
              gridcolor="#a9a9a9", gridwidth=1.2, showline=False, fixedrange=True,
              minor=dict(dtick=0.2, showgrid=True, gridcolor="#cdcdcd", griddash="3px,3px",
                         gridwidth=1))
pa, pb = panels
fig.update_layout(
    width=FW, height=FH, autosize=False, margin=dict(l=0, r=0, t=0, b=0),
    paper_bgcolor="white", plot_bgcolor=CREAM, showlegend=False,
    xaxis=dict(axis_x, anchor="y"),
    xaxis2=dict(axis_x, anchor="y2"),
    yaxis=dict(range=[-(pa["bottom"] - pa["row0"]), pa["row0"] - pa["top"]],
               domain=[py(pa["bottom"]), py(pa["top"])], showgrid=False, zeroline=False,
               showticklabels=False, ticks="", fixedrange=True),
    yaxis2=dict(range=[-(pb["bottom"] - pb["row0"]), pb["row0"] - pb["top"]],
                domain=[py(pb["bottom"]), py(pb["top"])], showgrid=False, zeroline=False,
                showticklabels=False, ticks="", fixedrange=True),
    shapes=shapes, annotations=annotations,
)

fig.write_html("out.html")
